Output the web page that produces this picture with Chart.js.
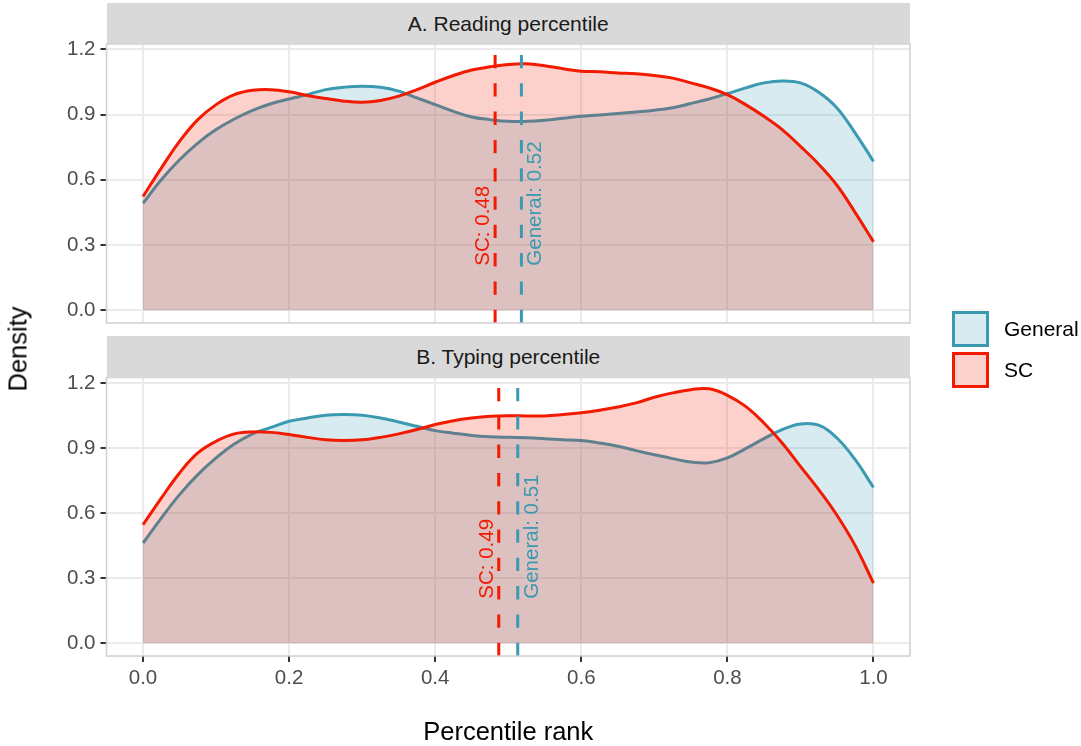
<!DOCTYPE html>
<html>
<head>
<meta charset="utf-8">
<script src="https://cdn.jsdelivr.net/npm/chart.js@4.4.0/dist/chart.umd.min.js"></script>
<style>
  body { margin: 0; background: #fff; font-family: "Liberation Sans", Arial, sans-serif; }
  #wrap { position: relative; width: 1081px; height: 746px; overflow: hidden; background: #fff; }
  canvas { position: absolute; left: 0; }
  .strip { position: absolute; left: 106.5px; width: 803.5px; background: #D9D9D9; color: #1A1A1A;
           font-size: 21px; display: flex; align-items: center; justify-content: center; }
  .key { position: absolute; left: 951.7px; width: 37.3px; height: 36.3px; box-sizing: border-box; border: 3px solid; }
  .keytxt { position: absolute; left: 1004px; font-size: 21px; color: #000; line-height: 24px; }
  #ytitle { position: absolute; left: 18px; top: 349px; font-size: 25.5px; color: #000;
            transform: translate(-50%, -50%) rotate(-90deg); white-space: nowrap; }
  #xtitle { position: absolute; left: 106.5px; width: 803.5px; top: 719.4px; text-align: center;
            font-size: 25.5px; line-height: 25.5px; color: #000; }
</style>
</head>
<body>
<div id="wrap">
  <canvas id="chartA" width="1081" height="330" style="top:0"></canvas>
  <canvas id="chartB" width="1081" height="416" style="top:330px"></canvas>
  <div class="strip" style="top:3px;height:41px">A. Reading percentile</div>
  <div class="strip" style="top:336px;height:41.5px">B. Typing percentile</div>
  <div id="ytitle">Density</div>
  <div id="xtitle">Percentile rank</div>
  <div class="key" style="top:310.7px;border-color:#3B9AB2;background:rgba(59,154,178,0.2)"></div>
  <div class="key" style="top:351.7px;border-color:#F21A00;background:rgba(242,26,0,0.2)"></div>
  <div class="keytxt" style="top:316.5px">General</div>
  <div class="keytxt" style="top:358px">SC</div>
</div>
<script>
// groups: General, SC
const groups = ['General', 'SC']

// percentile rank grid where the densities were read
const xs = [0, 0.025, 0.05, 0.075, 0.1, 0.125, 0.15, 0.175, 0.2, 0.225,
            0.25, 0.275, 0.3, 0.325, 0.35, 0.375, 0.4, 0.425, 0.45, 0.475,
            0.5, 0.525, 0.55, 0.575, 0.6, 0.625, 0.65, 0.675, 0.7, 0.725,
            0.75, 0.775, 0.8, 0.825, 0.85, 0.875, 0.9, 0.925, 0.95, 0.975, 1]

// A. Reading percentile
const readingGeneral = [0.492, 0.600, 0.692, 0.769, 0.831, 0.880, 0.920, 0.950, 0.972, 0.992,
                        1.015, 1.026, 1.031, 1.026, 1.008, 0.977, 0.946, 0.915, 0.889, 0.877,
                        0.869, 0.869, 0.874, 0.883, 0.892, 0.898, 0.905, 0.912, 0.920, 0.932,
                        0.951, 0.972, 0.997, 1.023, 1.046, 1.055, 1.046, 1.003, 0.931, 0.815, 0.685]
const readingSC = [0.523, 0.654, 0.777, 0.877, 0.946, 0.992, 1.012, 1.015, 1.005, 0.988,
                   0.974, 0.962, 0.957, 0.965, 0.985, 1.015, 1.049, 1.080, 1.105, 1.120,
                   1.131, 1.134, 1.125, 1.111, 1.100, 1.097, 1.092, 1.088, 1.080, 1.068,
                   1.046, 1.023, 0.992, 0.946, 0.892, 0.831, 0.754, 0.672, 0.575, 0.449, 0.315]
const readingMeans = [0.518, 0.482]

// B. Typing percentile
const typingGeneral = [0.462, 0.577, 0.685, 0.777, 0.854, 0.918, 0.965, 0.995, 1.023, 1.038,
                       1.051, 1.054, 1.051, 1.038, 1.020, 1.000, 0.980, 0.968, 0.958, 0.952,
                       0.949, 0.947, 0.943, 0.938, 0.934, 0.923, 0.908, 0.888, 0.869, 0.851,
                       0.835, 0.832, 0.854, 0.897, 0.943, 0.985, 1.011, 1.005, 0.946, 0.846, 0.718]
const typingSC = [0.546, 0.669, 0.785, 0.877, 0.931, 0.965, 0.974, 0.972, 0.962, 0.949,
                  0.938, 0.935, 0.938, 0.949, 0.965, 0.985, 1.008, 1.026, 1.038, 1.046,
                  1.049, 1.048, 1.048, 1.054, 1.062, 1.074, 1.089, 1.108, 1.134, 1.154,
                  1.169, 1.173, 1.143, 1.092, 1.015, 0.923, 0.815, 0.708, 0.590, 0.450, 0.277]
const typingMeans = [0.513, 0.487]

const xTicks = [0, 0.2, 0.4, 0.6, 0.8, 1.0]
const yTicks = [0, 0.3, 0.6, 0.9, 1.2]

const lineColors = ['#3B9AB2', '#F21A00']
const fillColors = ['rgba(59,154,178,0.2)', 'rgba(242,26,0,0.2)']
const labelShift = [20, -6]   // px from the mean line to the label baseline
const fontFamily = '"Liberation Sans", Arial, sans-serif'

// dashed mean lines, their labels and the panel border
const panelExtras = {
    id: 'panelExtras',
    afterDatasetsDraw(chart, args, opts) {
        const ctx = chart.ctx
        const a = chart.chartArea
        const x = chart.scales.x
        const y = chart.scales.y
        ctx.save()
        opts.means.forEach(function(m, i){
            const px = x.getPixelForValue(m)
            ctx.strokeStyle = lineColors[i]
            ctx.lineWidth = 3
            ctx.setLineDash([13.3, 15])
            ctx.beginPath()
            ctx.moveTo(px, a.bottom)
            ctx.lineTo(px, a.top)
            ctx.stroke()
        })
        ctx.setLineDash([])
        ctx.font = '20.5px ' + fontFamily
        ctx.textAlign = 'left'
        ctx.textBaseline = 'alphabetic'
        opts.means.forEach(function(m, i){
            const px = x.getPixelForValue(m) + labelShift[i]
            const py = y.getPixelForValue(0.205)
            ctx.save()
            ctx.translate(px, py)
            ctx.rotate(-Math.PI / 2)
            ctx.fillStyle = lineColors[i]
            ctx.fillText(groups[i] + ': ' + m.toFixed(2), 0, 0)
            ctx.restore()
        })
        ctx.strokeStyle = '#D0D0D0'
        ctx.lineWidth = 1.5
        ctx.strokeRect(a.left, a.top, a.right - a.left, a.bottom - a.top)
        ctx.restore()
    }
}

function makePanel(canvas, series, means, showX, padTop, padBottom, xHeight){
    const datasets = series.map(function(vals, i){
        return {
            label: groups[i],
            data: xs.map((v, k) => ({x: v, y: vals[k]})),
            borderColor: lineColors[i],
            backgroundColor: fillColors[i],
            borderWidth: 3,
            pointRadius: 0,
            fill: 'origin',
            tension: 0.4,
            order: i === 0 ? 1 : 0
        }
    })

    return new Chart(canvas, {
        type: 'line',
        data: {datasets: datasets},
        options: {
            responsive: false,
            animation: false,
            devicePixelRatio: 1,
            layout: {padding: {left: 0, right: 171, top: padTop, bottom: padBottom}},
            plugins: {
                legend: {display: false},
                tooltip: {enabled: false},
                panelExtras: {means: means}
            },
            scales: {
                x: {
                    type: 'linear',
                    min: -0.05,
                    max: 1.05,
                    afterBuildTicks: s => { s.ticks = xTicks.map(v => ({value: v})) },
                    afterFit: s => { s.height = xHeight; s.paddingLeft = 0; s.paddingRight = 0 },
                    border: {display: false},
                    grid: {color: '#EBEBEB', lineWidth: 2, drawTicks: showX, tickLength: 6,
                           tickColor: '#333333', tickWidth: 2},
                    ticks: {display: showX, color: '#4D4D4D', padding: 4,
                            font: {family: fontFamily, size: 20.5}, callback: v => v.toFixed(1)}
                },
                y: {
                    min: -0.059,
                    max: 1.225,
                    afterBuildTicks: s => { s.ticks = yTicks.map(v => ({value: v})) },
                    afterFit: s => { s.width = 106.5; s.paddingTop = 0; s.paddingBottom = 0 },
                    border: {display: false},
                    grid: {color: '#EBEBEB', lineWidth: 2, tickLength: 6, tickColor: '#333333', tickWidth: 2},
                    ticks: {color: '#4D4D4D', padding: 5,
                            font: {family: fontFamily, size: 20.5}, callback: v => v.toFixed(1)}
                }
            }
        },
        plugins: [panelExtras]
    })
}

makePanel(document.querySelector('canvas#chartA'), [readingGeneral, readingSC], readingMeans, false, 44, 7, 0)
makePanel(document.querySelector('canvas#chartB'), [typingGeneral, typingSC], typingMeans, true, 47.5, 50, 40)
</script>
</body>
</html>
